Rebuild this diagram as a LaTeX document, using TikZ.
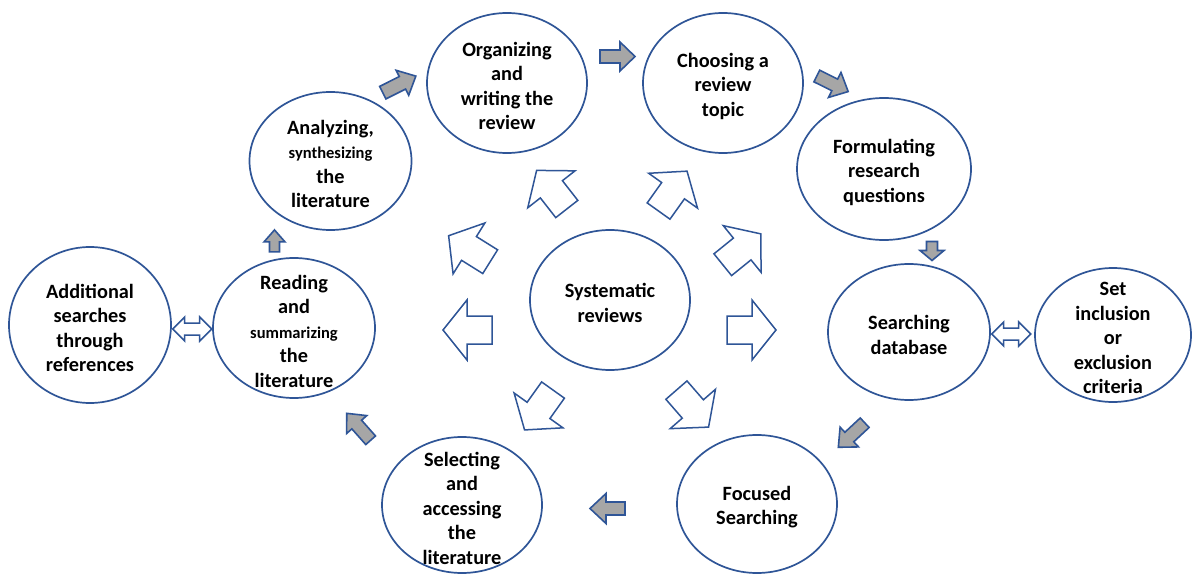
\documentclass[tikz,border=0pt]{standalone}
\usepackage{fontspec}
\setmainfont{Carlito}
\usetikzlibrary{shapes.geometric}
\definecolor{ob}{RGB}{47,85,151}
\definecolor{gf}{RGB}{166,166,166}
% #1 style, #2 cx, #3 cy, #4 angle, #5 length, #6 head length, #7 head width, #8 shaft width
\newcommand{\blockarr}[8]{%
  \draw[#1, shift={(#2,#3)}, rotate=#4]
    ({-#5/2},{-#8/2}) -- ({#5/2-#6},{-#8/2}) -- ({#5/2-#6},{-#7/2}) -- ({#5/2},0)
    -- ({#5/2-#6},{#7/2}) -- ({#5/2-#6},{#8/2}) -- ({-#5/2},{#8/2}) -- cycle;}
% #1 style, #2 cx, #3 cy, #4 length, #5 head length, #6 head width, #7 shaft width
\newcommand{\dblarr}[7]{%
  \draw[#1, shift={(#2,#3)}]
    ({-#4/2},0) -- ({-#4/2+#5},{-#6/2}) -- ({-#4/2+#5},{-#7/2}) -- ({#4/2-#5},{-#7/2})
    -- ({#4/2-#5},{-#6/2}) -- ({#4/2},0) -- ({#4/2-#5},{#6/2}) -- ({#4/2-#5},{#7/2})
    -- ({-#4/2+#5},{#7/2}) -- ({-#4/2+#5},{#6/2}) -- cycle;}
\tikzset{
  bub/.style={draw=ob, line width=1.7pt, ellipse, inner sep=0pt, fill=white},
  txt/.style={align=center, font=\fontsize{20.3}{24.5}\selectfont\bfseries, inner sep=0pt, yshift=-3pt},
  warr/.style={draw=ob, line width=1.5pt, fill=white, line join=miter},
  garr/.style={draw=ob, line width=1.6pt, fill=gf, line join=miter},
}
\newcommand{\sm}[1]{{\fontsize{16.5}{24.5}\selectfont #1}}
\begin{document}
\begin{tikzpicture}[x=1pt, y=-1pt]
\useasboundingbox[fill=white] (0,0) rectangle (1192,575);
% ellipses
\node[bub, minimum width=160pt, minimum height=140pt] (org) at (507,83) {};
\node[bub, minimum width=160pt, minimum height=140pt] (cho) at (723,83) {};
\node[bub, minimum width=174pt, minimum height=142pt] (form) at (884,169) {};
\node[bub, minimum width=162pt, minimum height=136pt] (sdb) at (909,332) {};
\node[bub, minimum width=156pt, minimum height=134pt] (set) at (1113,335) {};
\node[bub, minimum width=160pt, minimum height=138pt] (foc) at (757,504) {};
\node[bub, minimum width=160pt, minimum height=136pt] (sel) at (462,505) {};
\node[bub, minimum width=162pt, minimum height=140pt] (read) at (294,328) {};
\node[bub, minimum width=162pt, minimum height=156pt] (add) at (90,325) {};
\node[bub, minimum width=162pt, minimum height=138pt] (ana) at (330.5,161) {};
\node[bub, minimum width=160pt, minimum height=140pt] (sys) at (610,300) {};
% texts
\node[txt] (org-t) at (org) {Organizing\\and\\writing the\\review};
\node[txt] (cho-t) at (cho) {Choosing a\\review\\topic};
\node[txt] (form-t) at (form) {Formulating\\research\\questions};
\node[txt] (sdb-t) at (sdb) {Searching\\database};
\node[txt] (set-t) at (set) {Set\\inclusion\\or\\exclusion\\criteria};
\node[txt] (foc-t) at (foc) {Focused\\Searching};
\node[txt] (sel-t) at (sel) {Selecting\\and\\accessing\\the\\literature};
\node[txt] (read-t) at (read) {Reading\\and\\\sm{summarizing}\\the\\literature};
\node[txt] (add-t) at (add) {Additional\\searches\\through\\references};
\node[txt] (ana-t) at (ana) {Analyzing,\\\sm{synthesizing}\\the\\literature};
\node[txt] (sys-t) at (sys) {Systematic\\reviews};
% central white arrows
\blockarr{warr}{467.5}{330}{180}{49}{24}{60}{28}
\blockarr{warr}{751.5}{330}{0}{49}{24}{60}{28}
\blockarr{warr}{469.4}{248.7}{148}{49}{24}{60}{28}
\blockarr{warr}{551.7}{189.7}{128}{49}{24}{60}{28}
\blockarr{warr}{672.8}{191.1}{54.5}{49}{24}{60}{28}
\blockarr{warr}{741.8}{249.3}{39}{49}{24}{60}{28}
\blockarr{warr}{538.8}{410}{-125.5}{49}{24}{60}{28}
\blockarr{warr}{692.5}{408.6}{-49}{49}{24}{60}{28}
% grey process arrows
\blockarr{garr}{399.3}{84.4}{26.6}{37}{15}{28}{14}
\blockarr{garr}{617.5}{56.5}{0}{35}{15}{29}{13}
\blockarr{garr}{832.5}{83.8}{-26.4}{35}{15}{28}{13}
\blockarr{garr}{932}{251}{-90}{19}{10}{24}{11}
\blockarr{garr}{851.5}{435}{223}{36}{15}{27}{13}
\blockarr{garr}{607.5}{508.5}{180}{35}{16}{30}{13}
\blockarr{garr}{358.7}{426.8}{131.6}{36}{15}{27}{13}
\blockarr{garr}{274.5}{240.9}{90}{22}{12}{21}{10}
% double arrows
\dblarr{warr}{192.2}{329}{39}{12}{24}{12}
\dblarr{warr}{1011.2}{334}{39}{12}{24}{12}
\end{tikzpicture}
\end{document}
